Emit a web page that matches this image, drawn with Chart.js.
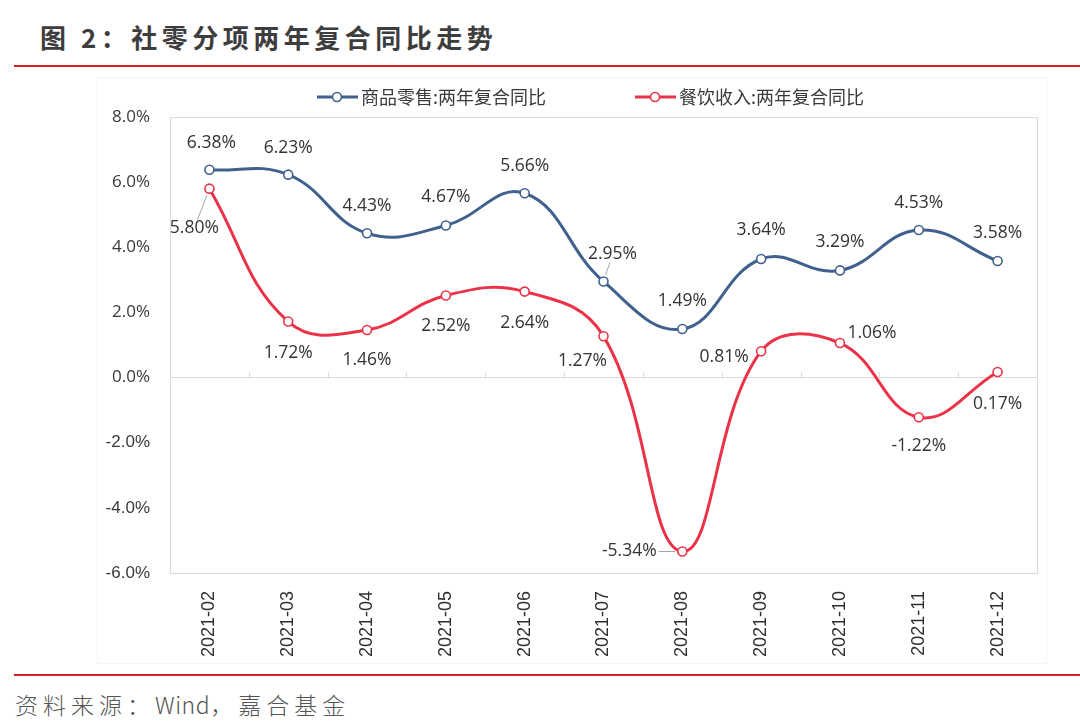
<!DOCTYPE html>
<html><head><meta charset="utf-8">
<script src="https://cdn.jsdelivr.net/npm/chart.js@4.4.1/dist/chart.umd.min.js"></script>
<style>
html,body{margin:0;padding:0;background:#fff;width:1080px;height:726px;overflow:hidden;position:relative;}
#title{position:absolute;left:40px;top:18px;font-family:"Noto Sans CJK SC";font-weight:700;font-size:26px;letter-spacing:4.5px;color:#3d3d3d;line-height:38px;white-space:nowrap;}
.rule{position:absolute;left:14px;width:1066px;height:2px;background:#d71f26;}
#frame{position:absolute;left:97px;top:77px;width:948px;height:585px;border:1px solid #f4f4f4;}
#src{position:absolute;left:15px;top:688px;font-family:"Noto Sans CJK SC";font-weight:300;font-size:23px;letter-spacing:5px;color:#555;line-height:32px;white-space:nowrap;}
#src span{letter-spacing:0.5px;}
canvas{position:absolute;left:0;top:0;}
</style></head>
<body>
<div id="title">图 2：社零分项两年复合同比走势</div>
<div class="rule" style="top:65px"></div>
<div id="frame"></div>
<div class="rule" style="top:674px"></div>
<div id="src">资料来源：<span>Wind</span>，嘉合基金</div>
<canvas id="c" width="1080" height="726"></canvas>
<script>
// ---- data ----
const categories = ['2021-02','2021-03','2021-04','2021-05','2021-06','2021-07','2021-08','2021-09','2021-10','2021-11','2021-12'];
const retailSales = [6.38, 6.23, 4.43, 4.67, 5.66, 2.95, 1.49, 3.64, 3.29, 4.53, 3.58];
const cateringRevenue = [5.80, 1.72, 1.46, 2.52, 2.64, 1.27, -5.34, 0.81, 1.06, -1.22, 0.17];
const seriesNames = ['商品零售:两年复合同比', '餐饮收入:两年复合同比'];
const yMin = -6, yMax = 8, yStep = 2;

// ---- label placement (style only, relative to each point) ----
const retailLabelOffsets = [[2,-27],[0,-27],[0,-27],[0,-28],[0,-27],[9,-27,true],[0,-28],[0,-29],[0,-28],[0,-27],[0,-28]];
const cateringLabelOffsets = [[-15,39,true],[0,31],[0,30],[0,31],[0,31],[-21,25],[-53,0,true],[-37,6],[32,-10],[0,29],[0,32]];

const BLUE = '#40608e';
const RED = '#ea3349';

const plotDeco = {
  id: 'plotDeco',
  beforeDatasetsDraw(chart) {
    const {ctx, chartArea: a, scales: {x, y}} = chart;
    ctx.save();
    ctx.strokeStyle = '#dadada';
    ctx.lineWidth = 1;
    ctx.strokeRect(Math.round(a.left) + 0.5, Math.round(a.top) + 0.5, Math.round(a.right - a.left), Math.round(a.bottom - a.top));
    const y0 = Math.round(y.getPixelForValue(0)) + 0.5;
    ctx.beginPath();
    for (let i = 1; i < categories.length; i++) {
      const bx = Math.round((x.getPixelForValue(i - 1) + x.getPixelForValue(i)) / 2) + 0.5;
      ctx.moveTo(bx, y0);
      ctx.lineTo(bx, y0 - 6);
    }
    ctx.stroke();
    ctx.restore();
  }
};

function drawLeader(ctx, px, py, cx, cy, w, h) {
  const dx = cx - px, dy = cy - py;
  const len = Math.hypot(dx, dy);
  const hw = w / 2 + 2, hh = h / 2 + 1;
  let tx = -Infinity, ty = -Infinity;
  if (dx > 0) tx = (cx - hw - px) / dx; else if (dx < 0) tx = (cx + hw - px) / dx;
  if (dy > 0) ty = (cy - hh - py) / dy; else if (dy < 0) ty = (cy + hh - py) / dy;
  const t = Math.max(tx, ty);
  const t0 = 7 / len;
  if (t <= t0) return;
  ctx.save();
  ctx.strokeStyle = '#a6a6a6';
  ctx.lineWidth = 1;
  ctx.beginPath();
  ctx.moveTo(px + dx * t0, py + dy * t0);
  ctx.lineTo(px + dx * t, py + dy * t);
  ctx.stroke();
  ctx.restore();
}

const dataLabels = {
  id: 'dataLabels',
  afterDatasetsDraw(chart) {
    const ctx = chart.ctx;
    ctx.save();
    ctx.font = '17.5px "Open Sans"';
    ctx.fillStyle = '#333333';
    ctx.textAlign = 'center';
    ctx.textBaseline = 'middle';
    chart.data.datasets.forEach((ds, di) => {
      const meta = chart.getDatasetMeta(di);
      const offs = ds.labelOffsets;
      meta.data.forEach((pt, i) => {
        const txt = ds.data[i].toFixed(2) + '%';
        const o = offs[i];
        const cx = pt.x + o[0], cy = pt.y + o[1];
        if (o[2]) {
          const w = ctx.measureText(txt).width;
          drawLeader(ctx, pt.x, pt.y, cx, cy, w, 14);
        }
        ctx.fillText(txt, cx, cy);
      });
    });
    ctx.restore();
  }
};

const customLegend = {
  id: 'customLegend',
  afterDraw(chart) {
    const ctx = chart.ctx;
    const starts = [317, 635];
    const ly = 97;
    ctx.save();
    chart.data.datasets.forEach((ds, di) => {
      const sx = starts[di];
      ctx.strokeStyle = ds.borderColor;
      ctx.lineWidth = 3;
      ctx.beginPath();
      ctx.moveTo(sx, ly);
      ctx.lineTo(sx + 41, ly);
      ctx.stroke();
      ctx.beginPath();
      ctx.arc(sx + 20, ly, 4.5, 0, Math.PI * 2);
      ctx.fillStyle = '#fff';
      ctx.fill();
      ctx.lineWidth = 1.6;
      ctx.stroke();
      ctx.fillStyle = '#3a3a3a';
      ctx.font = '18px "Noto Sans CJK SC"';
      ctx.textAlign = 'left';
      ctx.textBaseline = 'middle';
      ctx.fillText(ds.label, sx + 44, ly);
    });
    ctx.restore();
  }
};

new Chart(document.getElementById('c'), {
  type: 'line',
  data: {
    labels: categories,
    datasets: [
      {
        label: seriesNames[0], data: retailSales, labelOffsets: retailLabelOffsets,
        borderColor: BLUE, backgroundColor: '#fff', borderWidth: 3, tension: 0.42,
        pointRadius: 4.5, pointBorderWidth: 1.6, pointBackgroundColor: '#fff', pointBorderColor: BLUE
      },
      {
        label: seriesNames[1], data: cateringRevenue, labelOffsets: cateringLabelOffsets,
        borderColor: RED, backgroundColor: '#fff', borderWidth: 3, tension: 0.42,
        pointRadius: 4.5, pointBorderWidth: 1.6, pointBackgroundColor: '#fff', pointBorderColor: RED
      }
    ]
  },
  options: {
    responsive: false,
    animation: false,
    devicePixelRatio: 1,
    layout: {padding: {left: 0, top: 117, right: 43, bottom: 0}},
    plugins: {legend: {display: false}, tooltip: {enabled: false}},
    elements: {line: {capBezierPoints: false}},
    scales: {
      x: {
        type: 'category',
        offset: true,
        grid: {display: false},
        border: {display: false},
        ticks: {
          minRotation: 90, maxRotation: 90, padding: 10,
          color: '#2f2f2f',
          font: {family: '"Liberation Sans", Arial', size: 18}
        },
        afterFit(s) { s.height = 153; }
      },
      y: {
        min: yMin, max: yMax,
        grid: {
          drawTicks: false,
          color: (c) => (c.tick && c.tick.value === 0) ? '#d9d9d9' : 'rgba(0,0,0,0)',
          lineWidth: 1
        },
        border: {display: false},
        ticks: {
          stepSize: yStep, padding: 20,
          color: '#3a3a3a',
          font: (c) => (c.tick && c.tick.value < 0)
            ? {family: '"Liberation Sans", Arial', size: 17}
            : {family: '"Open Sans"', size: 17},
          callback: (v) => v.toFixed(1) + '%'
        },
        afterFit(s) { s.width = 170; }
      }
    }
  },
  plugins: [plotDeco, dataLabels, customLegend]
});
</script>
</body></html>
